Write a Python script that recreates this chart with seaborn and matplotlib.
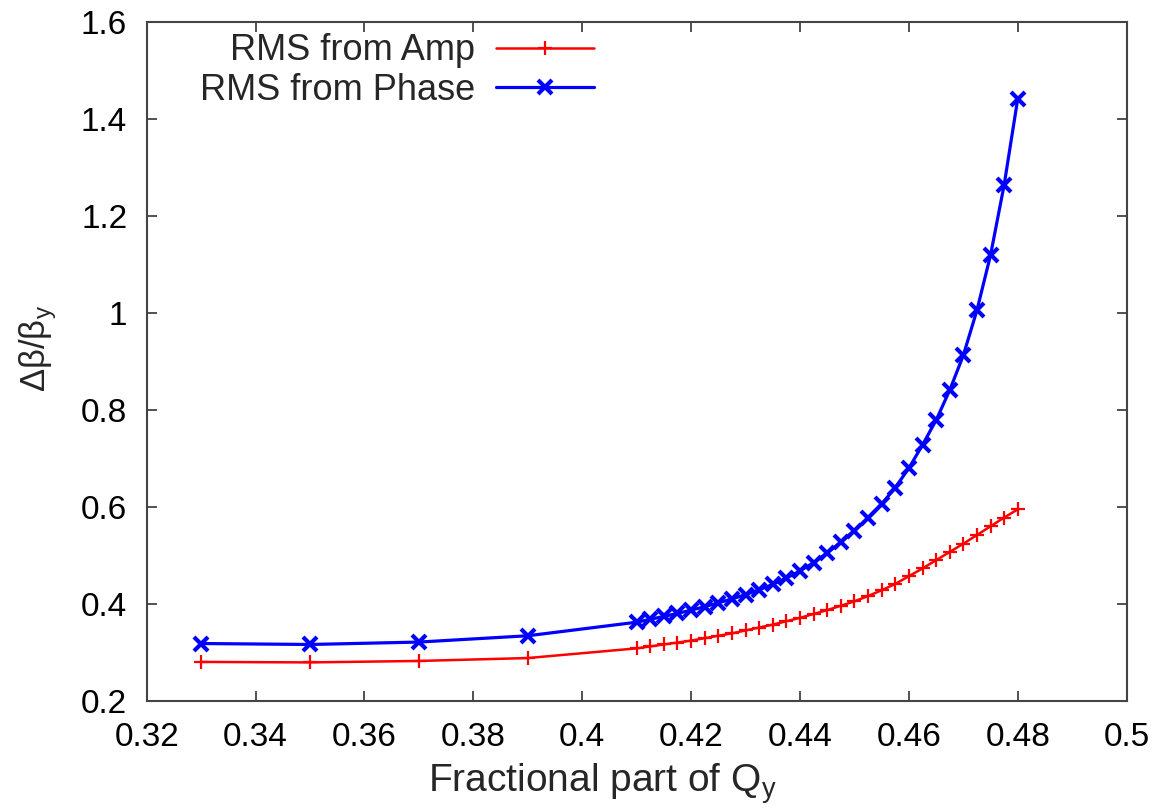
import seaborn as sns
import matplotlib.pyplot as plt
import numpy as np
from matplotlib.ticker import FuncFormatter, MultipleLocator

# Data
q_frac = np.array([
    0.33, 0.35, 0.37, 0.39,
    0.41, 0.4125, 0.415, 0.4175, 0.42, 0.4225, 0.425, 0.4275, 0.43, 0.4325,
    0.435, 0.4375, 0.44, 0.4425, 0.445, 0.4475, 0.45, 0.4525, 0.455, 0.4575,
    0.46, 0.4625, 0.465, 0.4675, 0.47, 0.4725, 0.475, 0.4775, 0.48,
])
rms_amp = np.array([
    0.280, 0.279, 0.282, 0.288,
    0.308, 0.312, 0.316, 0.320, 0.324, 0.329, 0.334, 0.339, 0.345, 0.351,
    0.357, 0.364, 0.371, 0.379, 0.387, 0.396, 0.405, 0.416, 0.428, 0.441,
    0.457, 0.473, 0.490, 0.507, 0.524, 0.542, 0.560, 0.578, 0.595,
])
rms_phase = np.array([
    0.318, 0.316, 0.321, 0.334,
    0.362, 0.368, 0.374, 0.380, 0.387, 0.394, 0.402, 0.410, 0.419, 0.429,
    0.440, 0.453, 0.468, 0.485, 0.505, 0.527, 0.551, 0.577, 0.606, 0.640,
    0.680, 0.728, 0.779, 0.841, 0.913, 1.006, 1.120, 1.265, 1.443,
])

sns.set_style('ticks')
plt.rcParams['font.family'] = ['Liberation Sans', 'DejaVu Sans']
plt.rcParams['mathtext.fontset'] = 'custom'
plt.rcParams['mathtext.rm'] = 'Liberation Sans'

fig = plt.figure(figsize=(11.62, 8.09), dpi=100)
ax = fig.add_axes([0.1262, 0.1339, 0.8434, 0.8383])

sns.lineplot(x=q_frac, y=rms_amp, ax=ax, color='#ff0000', linewidth=1.8,
             marker='+', markersize=10, markeredgewidth=1.6, markeredgecolor='#ff0000',
             label='RMS from Amp')
sns.lineplot(x=q_frac, y=rms_phase, ax=ax, color='#0000ff', linewidth=2.3,
             marker='x', markersize=10, markeredgewidth=3, markeredgecolor='#0000ff',
             label='RMS from Phase')

ax.set_xlim(0.32, 0.5)
ax.set_ylim(0.2, 1.6)
ax.xaxis.set_major_locator(MultipleLocator(0.02))
ax.yaxis.set_major_locator(MultipleLocator(0.2))
fmt = FuncFormatter(lambda v, p: '{:g}'.format(round(v, 4)))
ax.xaxis.set_major_formatter(fmt)
ax.yaxis.set_major_formatter(fmt)

ax.tick_params(direction='in', length=7, width=1.2, colors='#333333',
               labelcolor='black', labelsize=24, top=True, right=True)
ax.tick_params(axis='x', pad=15)
ax.tick_params(axis='y', pad=14)
for s in ax.spines.values():
    s.set_color('#444444')
    s.set_linewidth(1.5)

ax.set_xlabel('Fractional part of Q$_\\mathregular{y}$', fontsize=28, labelpad=6, x=0.465)
ax.set_ylabel('Δβ/β$_\\mathregular{y}$', fontsize=25, labelpad=16, y=0.52)

ax.legend(loc='upper right', bbox_to_anchor=(0.4564, 0.984), frameon=False,
          markerfirst=False, alignment='right', fontsize=26,
          handlelength=2.7, handletextpad=0.6, labelspacing=0.12,
          borderpad=0, borderaxespad=0)

fig.savefig('out.png', dpi=100)
